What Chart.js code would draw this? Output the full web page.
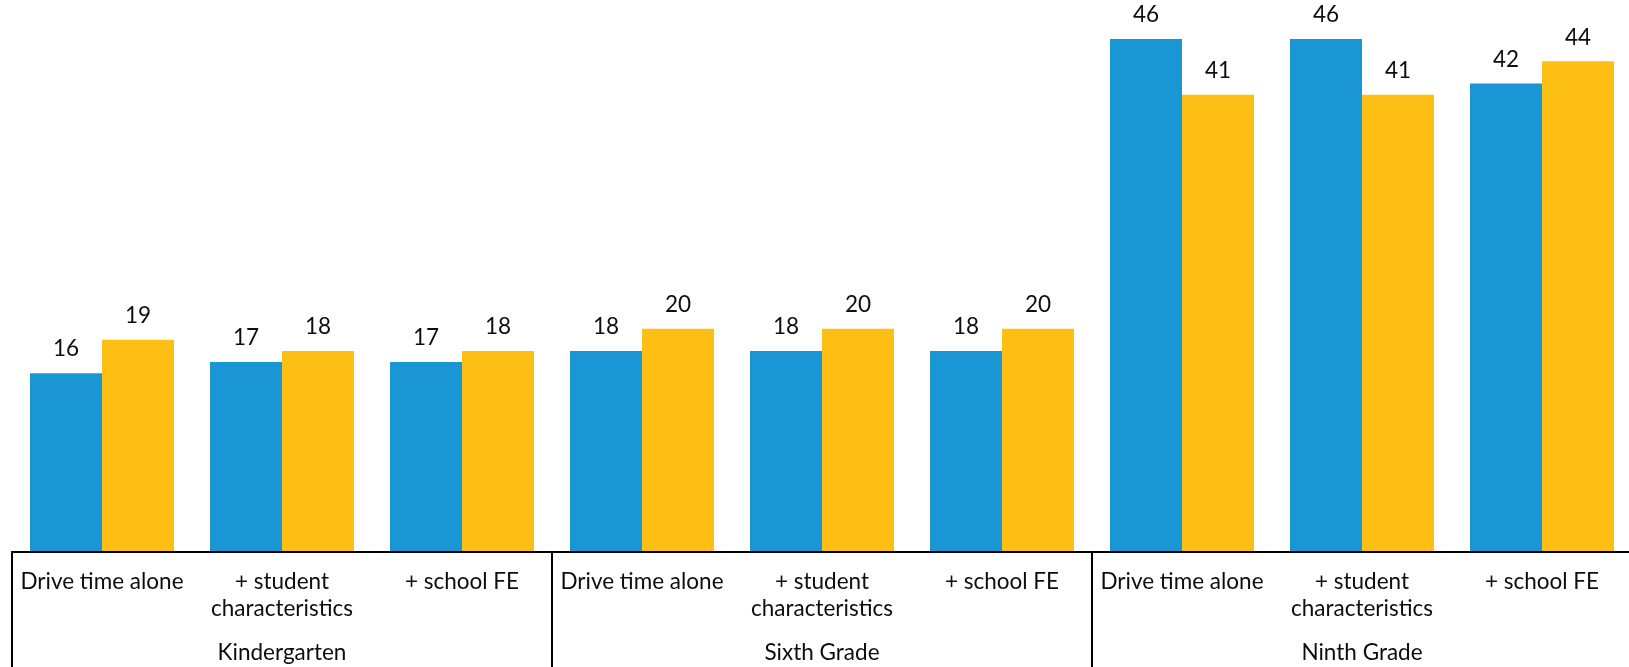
<!DOCTYPE html>
<html>
<head>
<meta charset="utf-8">
<script src="https://cdn.jsdelivr.net/npm/chart.js@4/dist/chart.umd.min.js"></script>
<style>
  html, body { margin: 0; padding: 0; background: #fff; overflow: hidden; }
  #wrap { width: 1632px; height: 667px; }
</style>
</head>
<body>
<div id="wrap"><canvas id="c" width="1632" height="667"></canvas></div>
<script>
// Model specifications, grouped by grade
const specs = ["Drive time alone", ["+ student", "characteristics"], "+ school FE"];
const grades = ["Kindergarten", "Sixth Grade", "Ninth Grade"];
const categories = ["K1", "K2", "K3", "S1", "S2", "S3", "N1", "N2", "N3"];

// Series values
const blueValues = [16, 17, 17, 18, 18, 18, 46, 46, 42];
const yellowValues = [19, 18, 18, 20, 20, 20, 41, 41, 44];

const FONT = "Lato, 'Open Sans', sans-serif";
const INK = "#0d0d0d";

const annotate = {
  id: "annotate",
  afterDatasetsDraw(chart) {
    const ctx = chart.ctx;
    ctx.save();
    ctx.fillStyle = INK;
    ctx.font = "22.5px " + FONT;
    ctx.textAlign = "center";
    ctx.textBaseline = "middle";
    chart.data.datasets.forEach((ds, di) => {
      const meta = chart.getDatasetMeta(di);
      meta.data.forEach((el, i) => {
        ctx.fillText(String(ds.data[i]), el.x, el.y - 24);
      });
    });
    ctx.restore();
  },
  afterDraw(chart) {
    const ctx = chart.ctx;
    const xs = chart.scales.x;
    const area = chart.chartArea;
    const H = chart.height;
    const n = categories.length;
    const step = (xs.right - xs.left) / n;
    ctx.save();
    ctx.strokeStyle = "#000";
    ctx.lineWidth = 2;
    const yAxis = Math.round(area.bottom);
    // baseline
    ctx.beginPath();
    ctx.moveTo(xs.left - 1, yAxis);
    ctx.lineTo(chart.width, yAxis);
    ctx.stroke();
    // group dividers
    for (let g = 0; g <= grades.length; g++) {
      const x = xs.getPixelForValue(g * 3) - step / 2;
      ctx.beginPath();
      ctx.moveTo(x, yAxis - 1);
      ctx.lineTo(x, H);
      ctx.stroke();
    }
    // category labels
    ctx.fillStyle = INK;
    ctx.font = "22.5px " + FONT;
    ctx.textAlign = "center";
    ctx.textBaseline = "middle";
    for (let i = 0; i < n; i++) {
      const x = xs.getPixelForValue(i);
      const lab = specs[i % 3];
      const lines = Array.isArray(lab) ? lab : [lab];
      lines.forEach((t, k) => ctx.fillText(t, x, yAxis + 30 + k * 27));
    }
    // grade labels
    grades.forEach((g, gi) => {
      const x = xs.getPixelForValue(gi * 3 + 1);
      ctx.fillText(g, x, yAxis + 101);
    });
    ctx.restore();
  }
};

new Chart(document.getElementById("c"), {
  type: "bar",
  data: {
    labels: categories,
    datasets: [
      { data: blueValues, backgroundColor: "#1a96d4", borderWidth: 0,
        categoryPercentage: 0.8, barPercentage: 1.0 },
      { data: yellowValues, backgroundColor: "#fdbf14", borderWidth: 0,
        categoryPercentage: 0.8, barPercentage: 1.0 }
    ]
  },
  options: {
    responsive: false,
    animation: false,
    devicePixelRatio: 1,
    layout: { padding: { left: 12, right: 0, top: 0, bottom: 115.5 } },
    plugins: { legend: { display: false }, tooltip: { enabled: false } },
    scales: {
      x: { display: false },
      y: { display: false, min: 0, max: 49.5 }
    }
  },
  plugins: [annotate]
});
</script>
</body>
</html>
